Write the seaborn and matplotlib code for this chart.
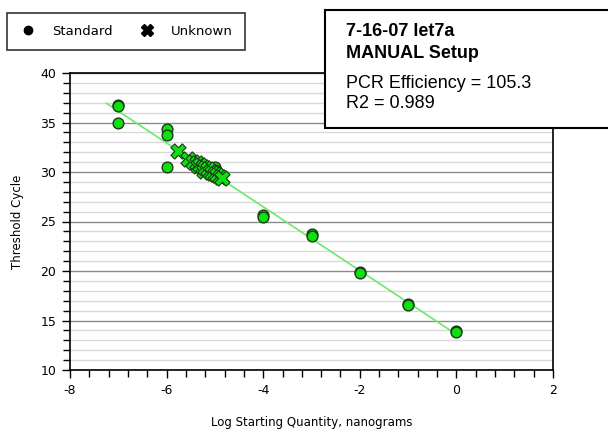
import numpy as np
import pandas as pd
import matplotlib
matplotlib.use("Agg")
import matplotlib.pyplot as plt
from matplotlib.lines import Line2D
from matplotlib.patches import Rectangle
from matplotlib.ticker import MultipleLocator
import seaborn as sns

# ---- data ----
std_x = [-7, -7, -7, -6, -6, -6, -5, -5, -5, -4, -4, -3, -3, -2, -2, -1, -1, 0, 0]
std_y = [36.8, 36.7, 35.0, 34.3, 33.7, 30.5, 30.5, 30.2, 29.9, 25.7, 25.5,
         23.7, 23.5, 19.9, 19.8, 16.7, 16.6, 13.9, 13.85]
unk_x = [-5.76, -5.55, -5.45, -5.38, -5.35, -5.30, -5.25, -5.22, -5.20, -5.15,
         -5.10, -5.05, -5.00, -4.95, -4.90, -4.85]
unk_y = [32.1, 31.3, 31.0, 30.9, 30.6, 30.7, 30.5, 30.1, 30.4, 30.3,
         30.0, 29.9, 29.8, 29.7, 29.5, 29.4]
fit_range = [-7.25, 0.0]
title_lines = ["7-16-07 let7a", "MANUAL Setup"]
info_lines = ["PCR Efficiency = 105.3", "R2 = 0.989"]
legend_labels = ["Standard", "Unknown"]

std_df = pd.DataFrame({"x": std_x, "y": std_y})
unk_df = pd.DataFrame({"x": unk_x, "y": unk_y})
slope, intercept = np.polyfit(std_x, std_y, 1)
fit_df = pd.DataFrame({"x": fit_range, "y": [slope * v + intercept for v in fit_range]})

sns.set_style("white")
plt.rcParams["font.family"] = ["DejaVu Sans"]
plt.rcParams["axes.unicode_minus"] = False
plt.rcParams["text.color"] = "black"
plt.rcParams["axes.labelcolor"] = "black"
plt.rcParams["xtick.color"] = "black"
plt.rcParams["ytick.color"] = "black"

fig = plt.figure(figsize=(6.08, 4.32), dpi=100)
ax = fig.add_axes([70 / 608, 1 - 370 / 432, (553 - 70) / 608, (370 - 73) / 432])

green = "#0FE00F"
edge = "#1A3A1A"
sns.lineplot(data=fit_df, x="x", y="y", ax=ax, color="#6CE86C", lw=1.2, zorder=2)
sns.scatterplot(data=std_df, x="x", y="y", marker="o", color=green,
                edgecolor=edge, linewidth=1.0, s=60, ax=ax, zorder=3)
sns.scatterplot(data=unk_df, x="x", y="y", marker="X", color=green,
                edgecolor=edge, linewidth=0.8, s=120, ax=ax, zorder=4)

ax.set_xlim(-8, 2)
ax.set_ylim(10, 40)
ax.xaxis.set_major_locator(MultipleLocator(2))
ax.xaxis.set_minor_locator(MultipleLocator(0.4))
ax.yaxis.set_major_locator(MultipleLocator(5))
ax.yaxis.set_minor_locator(MultipleLocator(1))
ax.grid(which="major", axis="y", color="#8C8C8C", lw=1.0)
ax.grid(which="minor", axis="y", color="#D9D9D9", lw=1.0)
ax.grid(False, axis="x", which="both")
ax.set_axisbelow(True)
for s in ax.spines.values():
    s.set_color("black")
    s.set_linewidth(1.2)
ax.tick_params(which="major", direction="out", length=6, width=1,
               labelsize=9, pad=4, bottom=True, left=True)
ax.tick_params(which="minor", direction="out", length=5, width=1,
               bottom=True, left=True)
ax.set_xlabel("Log Starting Quantity, nanograms", fontsize=8.5, labelpad=14)
ax.set_ylabel("Threshold Cycle", fontsize=8.5, labelpad=12)

# legend
handles = [Line2D([], [], marker="o", color="black", ls="none", markersize=6),
           Line2D([], [], marker="X", color="black", ls="none", markersize=8)]
leg = fig.legend(handles, legend_labels, ncol=2, loc="upper left",
                 bbox_to_anchor=(7 / 608, 1 - 13 / 432), frameon=True,
                 fancybox=False, edgecolor="black", fontsize=9.5,
                 handletextpad=1.1, columnspacing=1.95, borderpad=0.9,
                 borderaxespad=0, handlelength=1.4)
leg.get_frame().set_linewidth(1.2)

# info box
box = Rectangle((325 / 608, 1 - 128 / 432), 0.6, (128 - 10) / 432,
                transform=fig.transFigure, facecolor="white", edgecolor="black",
                lw=1.5, zorder=10, clip_on=False)
fig.patches.append(box)
tfam = ["Liberation Sans", "DejaVu Sans"]
fig.text(346 / 608, 1 - 32 / 432, title_lines[0], fontsize=13, fontweight="bold",
         family=tfam, va="center", ha="left", zorder=11)
fig.text(346 / 608, 1 - 53 / 432, title_lines[1], fontsize=13, fontweight="bold",
         family=tfam, va="center", ha="left", zorder=11)
fig.text(346 / 608, 1 - 84 / 432, info_lines[0], fontsize=13,
         family=tfam, va="center", ha="left", zorder=11)
fig.text(346 / 608, 1 - 103 / 432, info_lines[1], fontsize=13,
         family=tfam, va="center", ha="left", zorder=11)

fig.savefig("out.png", dpi=100)
